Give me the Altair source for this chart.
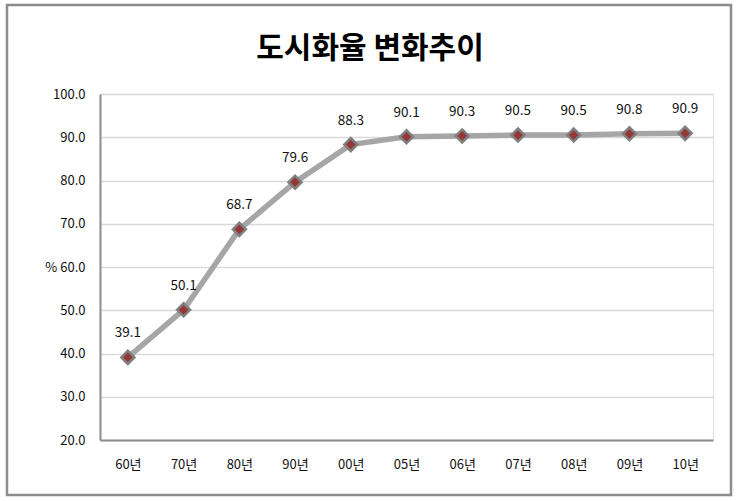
import altair as alt
import pandas as pd

years = ["60년", "70년", "80년", "90년", "00년", "05년", "06년", "07년", "08년", "09년", "10년"]
rates = [39.1, 50.1, 68.7, 79.6, 88.3, 90.1, 90.3, 90.5, 90.5, 90.8, 90.9]
y_ticks = [20, 30, 40, 50, 60, 70, 80, 90, 100]
chart_title = "도시화율 변화추이"

df = pd.DataFrame({"year": years, "rate": rates})
df["label"] = df["rate"].map(lambda v: f"{v:.1f}")

FONT = "Noto Sans CJK KR"
W, H = 613, 346

x = alt.X("year:N", sort=years, scale=alt.Scale(paddingInner=0, paddingOuter=0),
          axis=alt.Axis(title=None, labelAngle=0, ticks=False, labelPadding=18,
                        labelFontSize=13, labelColor="#111", labelFont=FONT,
                        domainColor="#8c8c8c", domainWidth=2, grid=False))
y = alt.Y("rate:Q", scale=alt.Scale(domain=[20, 100], nice=False, zero=False),
          axis=alt.Axis(title=None, values=y_ticks, ticks=False, labelPadding=15,
                        labelFontSize=13, labelColor="#111", labelFont=FONT,
                        labelExpr="datum.value == 60 ? '% 60.0' : format(datum.value, '.1f')",
                        domainColor="#8c8c8c", domainWidth=2,
                        gridColor="#d9d9d9", gridWidth=1.5))

base = alt.Chart(df)

line = base.mark_line(color="#a6a6a6", strokeWidth=5.5).encode(x=x, y=y)
points = base.mark_point(shape="diamond", filled=True, fill="#953735", stroke="#808080",
                         strokeWidth=2.5, size=170, opacity=1).encode(x=x, y=y)
labels = base.mark_text(dy=-24, fontSize=13.5, font=FONT, color="#111").encode(
    x=x, y=y, text="label:N")

single = pd.DataFrame({"t": [chart_title]})
frame = alt.Chart(single).mark_rect(
    fill=None, stroke="#8c8c8c", strokeWidth=2.5, clip=False).encode(
    x=alt.value(-93), x2=alt.value(631), y=alt.value(-89), y2=alt.value(401))
title = alt.Chart(single).mark_text(
    font=FONT, fontSize=30, fontWeight="bold", color="#000",
    align="center", baseline="middle").encode(
    x=alt.value(270), y=alt.value(-45), text="t:N")

chart = alt.layer(frame, title, line, points, labels).properties(
    width=W, height=H,
    padding={"left": 100, "top": 94, "right": 28, "bottom": 61},
    autosize=alt.AutoSizeParams(type="none"),
).configure_view(stroke=None).configure(background="white")

chart.save("out.html", embed_options={"renderer": "svg", "actions": False})
